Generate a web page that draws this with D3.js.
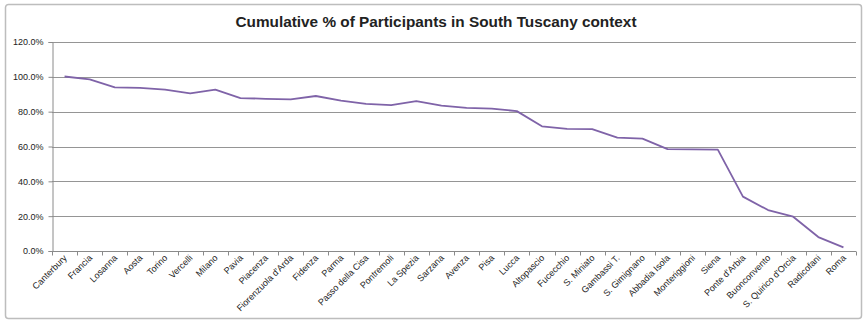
<!DOCTYPE html>
<html>
<head>
<meta charset="utf-8">
<script src="https://cdn.jsdelivr.net/npm/d3@7"></script>
<style>
  body { margin: 0; background: #fff; }
  svg text { font-family: "Liberation Sans", Arial, sans-serif; fill: #222; }
</style>
</head>
<body>
<div id="chart"></div>
<script>
var places = ["Canterbury", "Francia", "Losanna", "Aosta", "Torino", "Vercelli", "Milano",
  "Pavia", "Piacenza", "Fiorenzuola d'Arda", "Fidenza", "Parma", "Passo della Cisa",
  "Pontremoli", "La Spezia", "Sarzana", "Avenza", "Pisa", "Lucca", "Altopascio",
  "Fucecchio", "S. Miniato", "Gambassi T.", "S. Gimignano", "Abbadia Isola",
  "Monteriggioni", "Siena", "Ponte d'Arbia", "Buonconvento", "S. Quirico d'Orcia",
  "Radicofani", "Roma"];

var cumPct = [100.2, 98.6, 94.0, 93.7, 92.6, 90.5, 92.6,
  87.8, 87.4, 87.1, 89.0, 86.3, 84.5,
  83.8, 86.1, 83.5, 82.2, 81.8, 80.3, 71.6,
  70.1, 70.0, 65.1, 64.5, 58.5,
  58.4, 58.2, 31.2, 23.5, 19.7,
  8.0, 2.1];

var yTicks = [0, 20, 40, 60, 80, 100, 120];

var width = 864, height = 320;
var margin = {top: 42, right: 8, bottom: 69, left: 52};

var svg = d3.select("#chart").append("svg")
    .attr("width", width)
    .attr("height", height);

// chart frame
svg.append("rect")
    .attr("x", 5.5).attr("y", 4.5)
    .attr("width", 856).attr("height", 314)
    .attr("rx", 3)
    .attr("fill", "#fff")
    .attr("stroke", "#bdbdbd")
    .attr("stroke-width", 1.5);

svg.append("text")
    .attr("x", 436).attr("y", 27)
    .attr("text-anchor", "middle")
    .style("font-size", "14px")
    .style("font-weight", "bold")
    .attr("textLength", 401)
    .attr("lengthAdjust", "spacingAndGlyphs")
    .text("Cumulative % of Participants in South Tuscany context");

var x = d3.scaleBand()
    .domain(places)
    .range([margin.left, width - margin.right]);

var y = d3.scaleLinear()
    .domain([0, 120])
    .range([height - margin.bottom, margin.top]);

// gridlines
svg.append("g").selectAll("line")
    .data(yTicks.filter(function(d) { return d > 0; }))
    .enter().append("line")
      .attr("x1", margin.left).attr("x2", width - margin.right)
      .attr("y1", function(d) { return Math.round(y(d)) + 0.5; })
      .attr("y2", function(d) { return Math.round(y(d)) + 0.5; })
      .attr("stroke", "#959595");

// y axis
var yAxis = svg.append("g")
    .attr("transform", "translate(" + (margin.left + 0.5) + ",0)")
    .call(d3.axisLeft(y).tickValues(yTicks).tickSize(4).tickPadding(5)
      .tickFormat(function(d) { return d.toFixed(1) + "%"; }));
yAxis.select(".domain").attr("stroke", "#8a8a8a");
yAxis.selectAll(".tick line").attr("stroke", "#8a8a8a");
yAxis.selectAll("text").style("font-size", "9px").attr("fill", "#222");

// x axis: ticks on band edges
var xg = svg.append("g")
    .attr("transform", "translate(0," + (Math.round(y(0)) + 0.5) + ")");
xg.append("line")
    .attr("x1", margin.left).attr("x2", width - margin.right)
    .attr("stroke", "#8a8a8a");
xg.selectAll(".edge")
    .data(places.concat(["end"]))
    .enter().append("line")
      .attr("class", "edge")
      .attr("x1", function(d, i) { return Math.round(margin.left + i * x.step()) + 0.5; })
      .attr("x2", function(d, i) { return Math.round(margin.left + i * x.step()) + 0.5; })
      .attr("y1", 0).attr("y2", 4)
      .attr("stroke", "#8a8a8a");
xg.selectAll(".lbl")
    .data(places)
    .enter().append("text")
      .attr("class", "lbl")
      .attr("transform", function(d) {
        return "translate(" + (x(d) + x.bandwidth() / 2 + 3) + ",7)rotate(-45)";
      })
      .attr("text-anchor", "end")
      .style("font-size", "9px")
      .text(function(d) { return d; });

// the line
var line = d3.line()
    .x(function(d, i) { return x(places[i]) + x.bandwidth() / 2; })
    .y(function(d) { return y(d); });

svg.append("path")
    .datum(cumPct)
    .attr("d", line)
    .attr("fill", "none")
    .attr("stroke", "#7f63a8")
    .attr("stroke-width", 1.8)
    .attr("stroke-linejoin", "round");
</script>
</body>
</html>
